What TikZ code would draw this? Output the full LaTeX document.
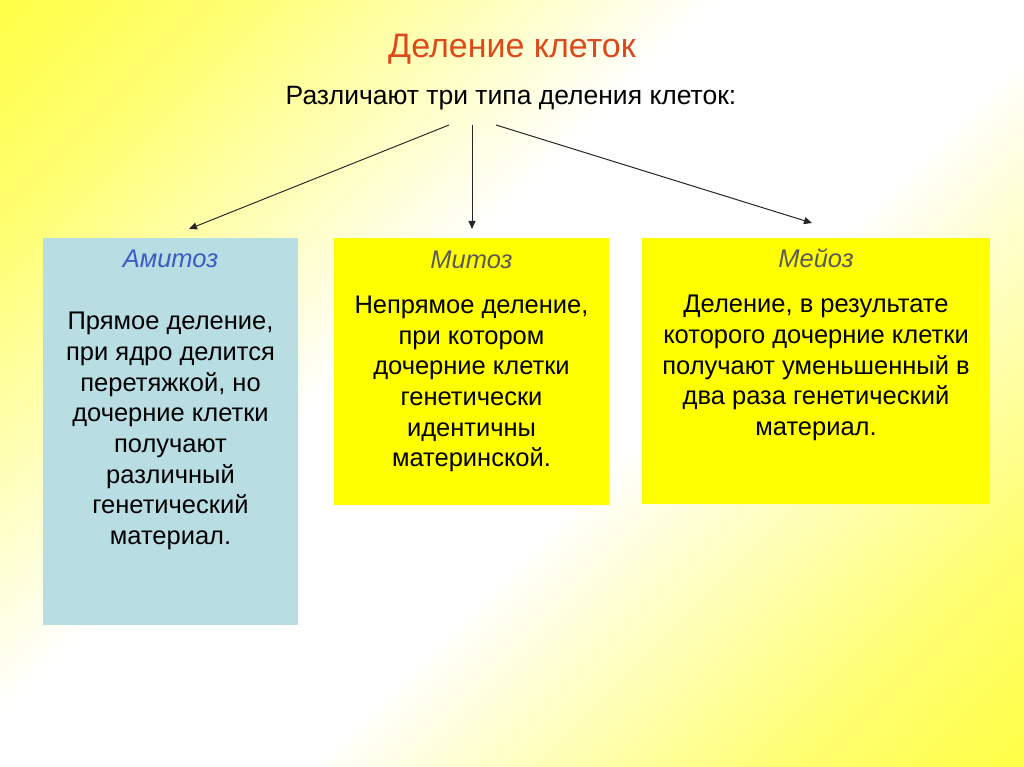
\documentclass[tikz,border=0pt]{standalone}
\usepackage{fontspec}
\setmainfont{Liberation Sans}
\usetikzlibrary{positioning}
\usetikzlibrary{arrows.meta}
\definecolor{title-red}{HTML}{DC4A1C}
\definecolor{amitoz-blue}{HTML}{B8DDE2}
\definecolor{amitoz-text}{HTML}{3A5BC7}
\definecolor{box-yellow}{HTML}{FFFF00}
\definecolor{head-gray}{HTML}{5A5A5A}
\pgfdeclarehorizontalshading{slide-bg}{100bp}{color(0bp)=(yellow); color(24bp)=(yellow!55!white); color(43bp)=(white); color(57bp)=(white); color(76bp)=(yellow!55!white); color(100bp)=(yellow)}
\tikzset{
  cell-box/.style n args={3}{
    fill=#3, draw=none,
    anchor=north west,
    minimum width=#1, minimum height=#2,
    inner sep=0pt, outer sep=0pt},
  head/.style={font=\fontsize{25.5}{30}\selectfont\itshape},
  body/.style={align=center, inner sep=0pt, font=\fontsize{25.5}{30.7}\selectfont},
  link/.style={-{Triangle[length=8pt,width=7pt]}, line width=1pt, draw=black!85},
}

\begin{document}
\begin{tikzpicture}[x=1pt, y=-1pt]
  \fill[shading=slide-bg, shading angle=-45] (0,0) rectangle (1024,767);
  \useasboundingbox (0,0) rectangle (1024,767);

  \node[font=\fontsize{34}{40}\selectfont, text=title-red] (title) at (512,49) {Деление клеток};
  \node[font=\fontsize{26.5}{31}\selectfont] (subtitle) at (511,98) {Различают три типа деления клеток:};

  \foreach \n/\l/\r/\b/\f/\c/\hd/\hy/\ty/\txt in {
    a/43/298/625/amitoz-blue/amitoz-text/Амитоз/259/431/{Прямое деление,\\при ядро делится\\перетяжкой, но\\дочерние клетки\\получают\\различный\\генетический\\материал.},
    b/334/609/505/box-yellow/head-gray/Митоз/260/384/{Непрямое деление,\\при котором\\дочерние клетки\\генетически\\идентичны\\материнской.},
    c/642/990/504/box-yellow/head-gray/Мейоз/258/368/{Деление, в результате\\которого дочерние клетки\\получают уменьшенный в\\два раза генетический\\материал.}} {
    % box with its name and text
    \node[cell-box={\r-\l}{\b-238}{\f}] (box-\n) at (\l,238) {};
    \node[head, text=\c] (head-\n) at ({(\l+\r)/2},\hy) {\hd};
    \node[body] (text-\n) at ({(\l+\r)/2},\ty) {\txt};
  }

  \coordinate (from-a) at (449,125);
  \coordinate (from-b) at (472,125);
  \coordinate (from-c) at (496,125);
  \coordinate (to-a) at (189,229);
  \coordinate (to-b) at (472,229);
  \coordinate (to-c) at (812,223);
  \draw[link] (from-a) -- (to-a);
  \draw[link] (from-b) -- (to-b);
  \draw[link] (from-c) -- (to-c);
\end{tikzpicture}
\end{document}
